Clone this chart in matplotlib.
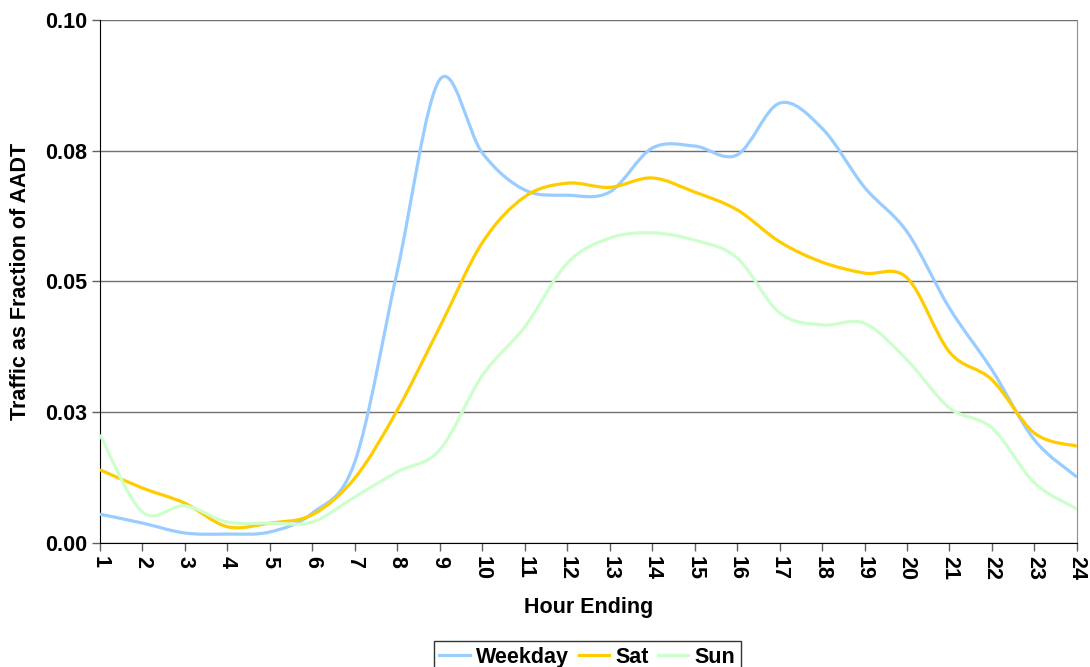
import numpy as np
import matplotlib
matplotlib.use("Agg")
import matplotlib.pyplot as plt
from matplotlib.path import Path
from matplotlib.patches import PathPatch
from matplotlib.lines import Line2D

plt.rcParams['font.family'] = ['Liberation Sans', 'DejaVu Sans']
plt.rcParams['font.weight'] = 'bold'

# Hourly traffic profile, fraction of AADT
hours = list(range(1, 25))
weekday = [0.0055, 0.0038, 0.0019, 0.0017, 0.0021, 0.0057, 0.0155, 0.0520,
           0.0886, 0.0746, 0.0675, 0.0665, 0.0671, 0.0755, 0.0759, 0.0742,
           0.0841, 0.0793, 0.0680, 0.0595, 0.0449, 0.0331, 0.0197, 0.0126]
sat = [0.0140, 0.0105, 0.0076, 0.0031, 0.0038, 0.0054, 0.0124, 0.0254,
       0.0413, 0.0574, 0.0662, 0.0688, 0.0680, 0.0698, 0.0671, 0.0637,
       0.0576, 0.0537, 0.0516, 0.0507, 0.0365, 0.0312, 0.0210, 0.0185]
sun = [0.0207, 0.0059, 0.0071, 0.0040, 0.0038, 0.0040, 0.0088, 0.0136,
       0.0178, 0.0320, 0.0413, 0.0535, 0.0583, 0.0593, 0.0579, 0.0545,
       0.0440, 0.0417, 0.0420, 0.0350, 0.0258, 0.0220, 0.0115, 0.0065]

y_ticks = [0.0, 0.025, 0.05, 0.075, 0.1]
y_labels = ["0.00", "0.03", "0.05", "0.08", "0.10"]


def smooth_path(x, y):
    # Excel-style smoothed line: cubic Bezier segments through the data points
    pts = np.column_stack([x, y]).astype(float)
    n = len(pts)
    verts = [pts[0]]
    codes = [Path.MOVETO]
    for i in range(n - 1):
        p0 = pts[i - 1] if i > 0 else pts[i]
        p1 = pts[i]
        p2 = pts[i + 1]
        p3 = pts[i + 2] if i + 2 < n else pts[i + 1]
        c1 = p1 + (p2 - p0) / 6.0
        c2 = p2 - (p3 - p1) / 6.0
        verts += [c1, c2, p2]
        codes += [Path.CURVE4] * 3
    return Path(verts, codes)


fig = plt.figure(figsize=(10.9, 6.67), dpi=100)
ax = fig.add_axes([0.0917, 0.186, 0.8963, 0.784])

series = [("Weekday", weekday, "#99CCFF"),
          ("Sat", sat, "#FFCC00"),
          ("Sun", sun, "#CCFFCC")]
handles = []
for name, vals, col in series:
    ax.add_patch(PathPatch(smooth_path(hours, vals), facecolor='none',
                           edgecolor=col, lw=2.3, zorder=3))
    handles.append(Line2D([], [], color=col, lw=2.3, label=name))

fs = 15.5
ax.set_xlim(1, 24)
ax.set_ylim(0, 0.1)
ax.set_xticks(hours)
ax.set_xticklabels([str(h) for h in hours], rotation=-90, fontsize=fs,
                   fontweight='bold')
ax.set_yticks(y_ticks)
ax.set_yticklabels(y_labels, fontsize=fs, fontweight='bold')
ax.tick_params(axis='both', direction='out', length=6, width=1, color='#606060')
ax.yaxis.grid(True, color='#707070', lw=1)
ax.set_axisbelow(True)

ax.spines['top'].set_visible(False)
ax.spines['right'].set_color('#909090')
ax.spines['left'].set_color('black')
ax.spines['bottom'].set_color('black')

ax.set_xlabel("Hour Ending", fontsize=fs, fontweight='bold', labelpad=12)
ax.set_ylabel("Traffic as Fraction of AADT", fontsize=fs, fontweight='bold',
              labelpad=10)

fig.legend(handles=handles, loc='lower center', bbox_to_anchor=(0.539, -0.025),
           ncol=3, frameon=True, fancybox=False, edgecolor='black',
           prop={'size': fs, 'weight': 'bold'}, handlelength=1.4,
           handletextpad=0.3, columnspacing=0.45, borderpad=0.25)

fig.savefig("out.png", dpi=100)
